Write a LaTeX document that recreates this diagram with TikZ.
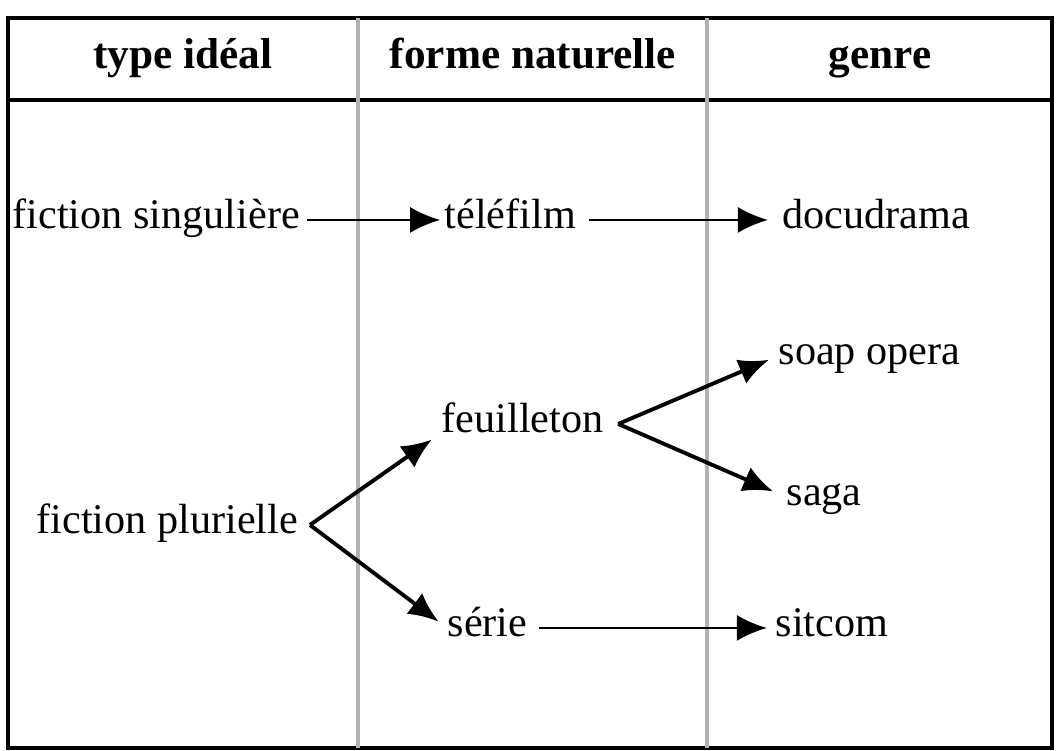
\documentclass[tikz,border=0pt]{standalone}
\usepackage{fontspec}
\setmainfont{Liberation Serif}
\usetikzlibrary{arrows.meta,positioning}

\tikzset{
  cell/.style={inner sep=0pt, anchor=base west, font=\fontsize{12}{14}\selectfont},
  head/.style={inner sep=0pt, anchor=base, font=\fontsize{12.3}{14}\selectfont\bfseries},
  flow/.style={-{Latex[length=3mm,width=2.6mm]}, line width=0.7pt},
  fork/.style={flow, line width=1.1pt},
  rule/.style={line width=1.4pt},
  divider/.style={gray!60, line width=1pt}
}

\begin{document}
\begin{tikzpicture}[x=0.01cm,y=-0.01cm]
   \useasboundingbox (0,0) rectangle (1058,750);
   % frame of the table
   \draw[rule] (8,18) rectangle (1052,748);
   \draw[rule] (8,100) -- (1052,100);
   \draw[divider] (358,18) -- (358,748);
   \draw[divider] (707,18) -- (707,748);
   % headers
   \node[head] (ideal)  at (183,68) {type idéal};
   \node[head] (forme)  at (533,68) {forme naturelle};
   \node[head] (genre)  at (880,68) {genre};
   % entries
   \node[cell] (fsing)  at (12,228)  {fiction singulière};
   \node[cell] (tele)   at (444,228) {téléfilm};
   \node[cell] (docu)   at (782,228) {docudrama};
   \node[cell] (soap)   at (778,364) {soap opera};
   \node[cell] (feuil)  at (441,432) {feuilleton};
   \node[cell] (saga)   at (786,505) {saga};
   \node[cell] (fplur)  at (36,533)  {fiction plurielle};
   \node[cell] (serie)  at (447,636) {série};
   \node[cell] (sitcom) at (775,636) {sitcom};
   \coordinate (pfork) at ([xshift=3.2pt]fplur.mid east);
   \coordinate (ffork) at ([xshift=4pt]feuil.mid east);
   % arrows
   \draw[flow,shorten <=1.7pt,shorten >=1.1pt] (fsing.mid east) -- (tele.mid west);
   \draw[flow,shorten <=3.4pt,shorten >=4pt] (tele.mid east) -- (docu.mid west);
   \draw[flow,shorten <=3.1pt,shorten >=2.3pt] (serie.mid east) -- (sitcom.mid west);
   \draw[fork,shorten >=3.2pt] (pfork) -- (feuil.south west);
   \draw[fork,shorten >=3pt] (pfork) -- (serie.mid west);
   \draw[fork,shorten >=2.8pt] (ffork) -- (soap.mid west);
   \draw[fork,shorten >=4pt] (ffork) -- (saga.mid west);
\end{tikzpicture}
\end{document}
